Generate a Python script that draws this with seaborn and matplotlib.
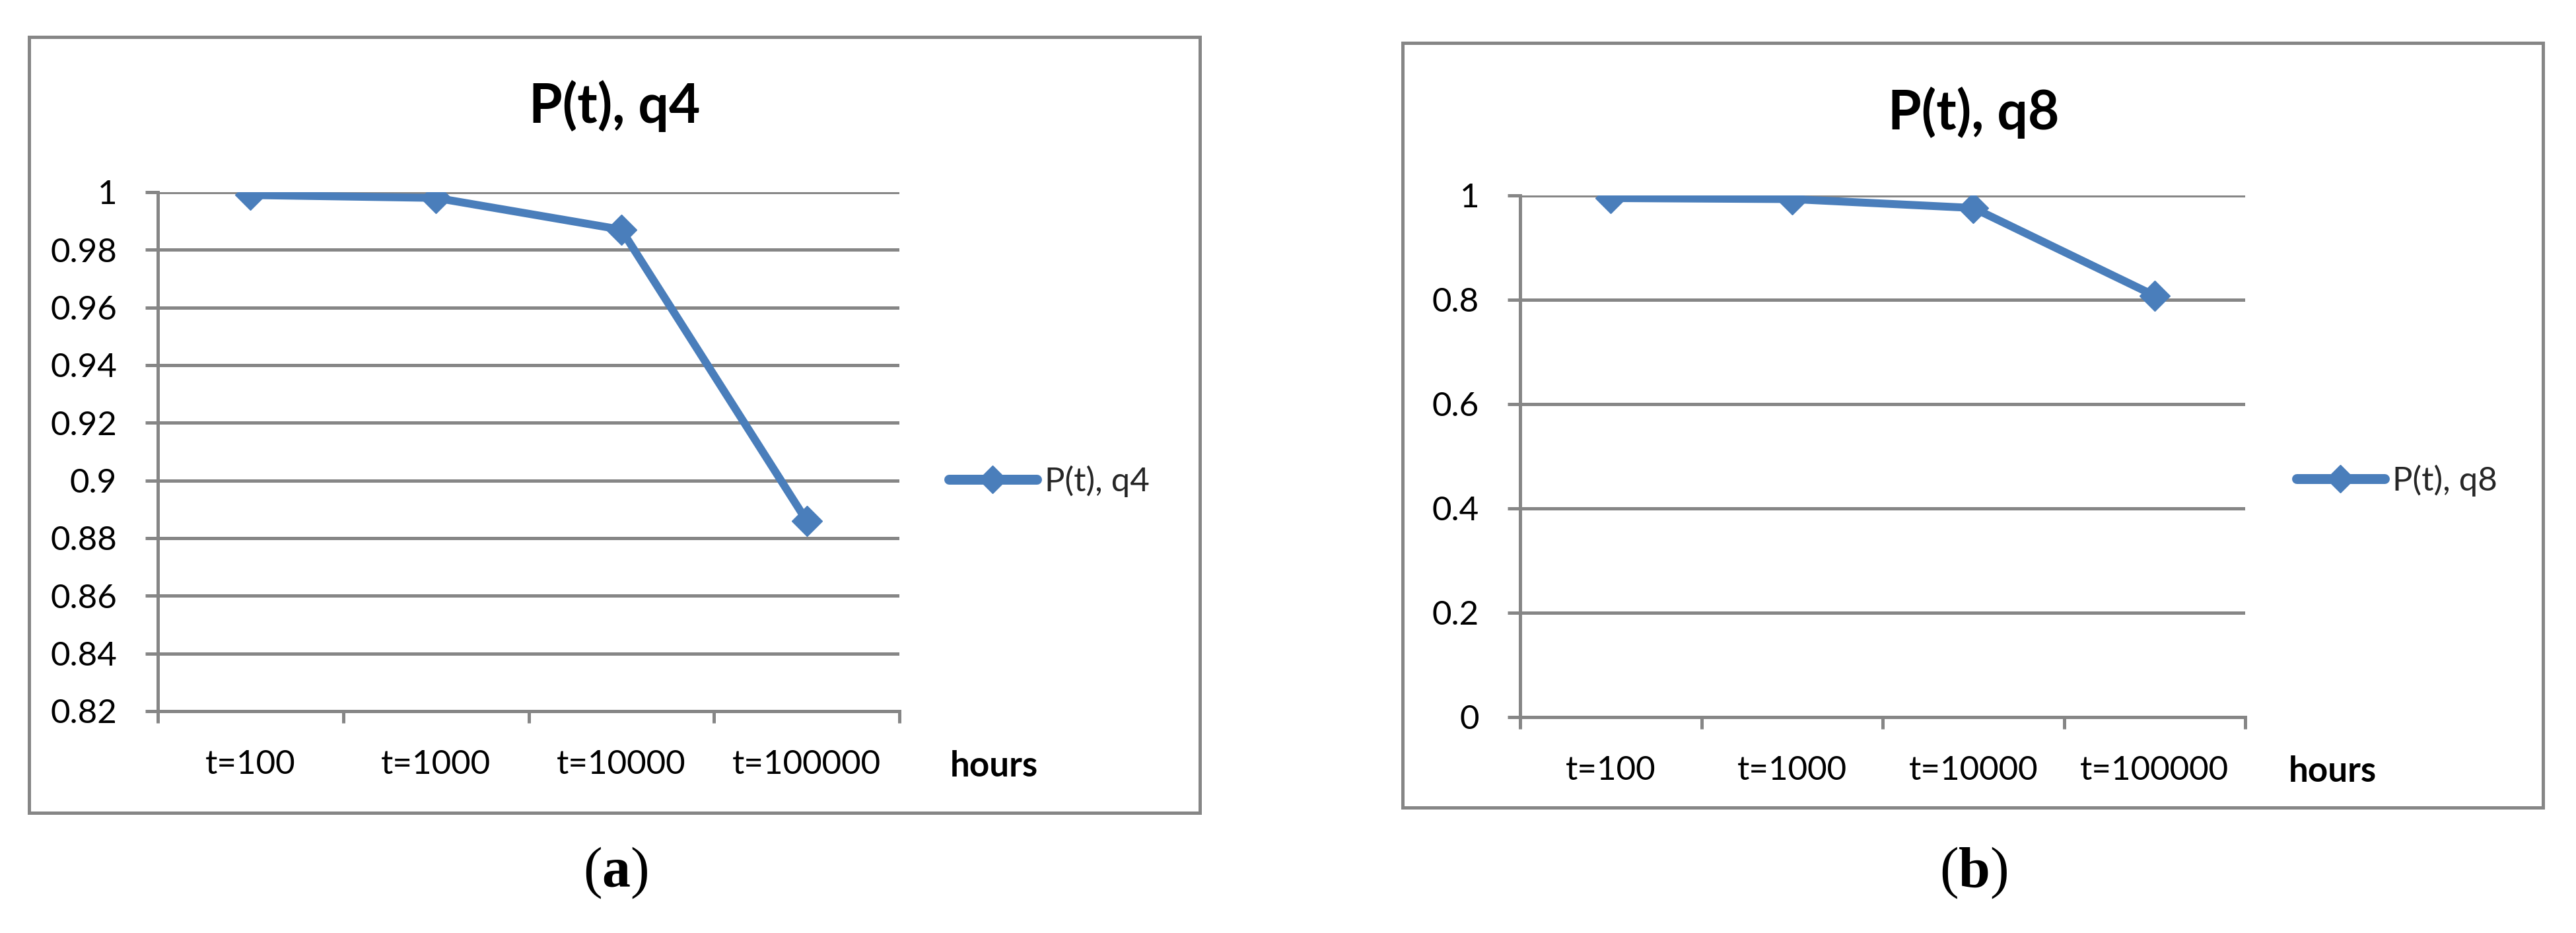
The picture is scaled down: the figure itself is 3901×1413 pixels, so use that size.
import numpy as np
import pandas as pd
import matplotlib
matplotlib.use("Agg")
import matplotlib.pyplot as plt
import seaborn as sns
from matplotlib.patches import Rectangle

# ---- data ----
categories = ["t=100", "t=1000", "t=10000", "t=100000"]
p_q4 = [0.999, 0.998, 0.987, 0.886]
p_q8 = [0.995, 0.993, 0.976, 0.808]
yticks_a = [0.82, 0.84, 0.86, 0.88, 0.9, 0.92, 0.94, 0.96, 0.98, 1.0]
yticks_b = [0, 0.2, 0.4, 0.6, 0.8, 1.0]
titles = ["P(t), q4", "P(t), q8"]
captions = ["a", "b"]
xlabel_text = "hours"

# ---- style ----
sns.set_theme(style="white")
plt.rcParams["font.family"] = ["Lato", "DejaVu Sans"]
plt.rcParams["mathtext.fontset"] = "custom"
plt.rcParams["mathtext.rm"] = "Liberation Serif"
plt.rcParams["mathtext.bf"] = "Liberation Serif:bold"

W, H = 3901, 1413
DPI = 100
fig = plt.figure(figsize=(W / DPI, H / DPI), dpi=DPI)
fig.patch.set_facecolor("white")

BLUE = "#4A7EBB"
GRAY = "#868686"
PX = 72.0 / DPI  # points per pixel


def fx(px):
    return px / W


def fy(py):
    return 1 - py / H


def yfmt(v):
    return f"{v:g}"


panels = [
    dict(vals=p_q4, yticks=yticks_a, ylim=(0.82, 1.0), title=titles[0], cap=captions[0],
         ax=(239, 1362, 291, 1077), border=(44, 1817, 56, 1231),
         title_xy=(931, 161), hours_xy=(1505, 1160), cap_xy=(932, 1322),
         leg_xy=(1437, 729)),
    dict(vals=p_q8, yticks=yticks_b, ylim=(0.0, 1.0), title=titles[1], cap=captions[1],
         ax=(2302, 3400, 296, 1086), border=(2124, 3851, 65, 1223),
         title_xy=(2989, 171), hours_xy=(3532, 1168), cap_xy=(2989, 1322),
         leg_xy=(3478, 728)),
]

for p in panels:
    # outer chart border
    bx0, bx1, by0, by1 = p["border"]
    fig.patches.append(Rectangle((fx(bx0), fy(by1)), fx(bx1) - fx(bx0), fy(by0) - fy(by1),
                                 transform=fig.transFigure, fill=False,
                                 edgecolor=GRAY, linewidth=5 * PX, zorder=0))

    x0, x1, y0, y1 = p["ax"]
    ax = fig.add_axes([fx(x0), fy(y1), fx(x1) - fx(x0), fy(y0) - fy(y1)])
    ax.set_facecolor("none")

    df = pd.DataFrame({"t": categories, "P": p["vals"]})
    sns.lineplot(data=df, x="t", y="P", sort=False, ax=ax, color=BLUE,
                 linewidth=12 * PX, marker="D", markersize=33 * PX,
                 markeredgecolor=BLUE, markerfacecolor=BLUE, markeredgewidth=1,
                 label=p["title"], legend=False, zorder=5)

    n = len(categories)
    ax.set_xlim(-0.5, n - 0.5)
    ax.set_ylim(*p["ylim"])

    # major ticks at category boundaries, labels at minor (centers)
    ax.set_xticks(np.arange(n + 1) - 0.5)
    ax.set_xticklabels([])
    ax.set_xticks(np.arange(n), minor=True)
    ax.set_xticklabels(categories, minor=True)
    ax.tick_params(axis="x", which="major", direction="out", length=18 * PX,
                   width=5 * PX, color=GRAY, bottom=True)
    ax.tick_params(axis="x", which="minor", length=0, pad=58 * PX,
                   labelsize=51 * PX, labelcolor="black")

    ax.set_yticks(p["yticks"])
    ax.set_yticklabels([yfmt(v) for v in p["yticks"]])
    ax.tick_params(axis="y", direction="out", length=19 * PX, width=5 * PX,
                   color=GRAY, left=True, pad=43 * PX, labelsize=51 * PX,
                   labelcolor="black")

    ax.yaxis.grid(True, color=GRAY, linewidth=5 * PX, zorder=1)
    ax.xaxis.grid(False)
    ax.set_axisbelow(True)
    for side in ["top", "right"]:
        ax.spines[side].set_visible(False)
    for side in ["left", "bottom"]:
        ax.spines[side].set_color(GRAY)
        ax.spines[side].set_linewidth(5 * PX)
    ax.set_xlabel("")
    ax.set_ylabel("")

    # legend
    handles, labels = ax.get_legend_handles_labels()
    lx, ly = p["leg_xy"]
    leg = fig.legend(handles, labels, loc="center left",
                     bbox_to_anchor=(fx(lx), fy(ly)), bbox_transform=fig.transFigure,
                     frameon=False, fontsize=51 * PX, handlelength=2.6,
                     handletextpad=0.25, borderpad=0, borderaxespad=0)
    for h in leg.legend_handles:
        h.set_linewidth(15 * PX)
        h.set_solid_capstyle("round")
        h.set_markersize(30 * PX)

    # title
    tx, ty = p["title_xy"]
    fig.text(fx(tx), fy(ty), p["title"], ha="center", va="center",
             fontsize=82 * PX, fontweight="bold", color="black")

    # "hours"
    hx, hy = p["hours_xy"]
    fig.text(fx(hx), fy(hy), xlabel_text, ha="center", va="center",
             fontsize=53 * PX, fontweight="bold", color="black")

    # caption (a)/(b)
    cx, cy = p["cap_xy"]
    fig.text(fx(cx), fy(cy), r"$\mathrm{(}\mathbf{" + p["cap"] + r"}\mathrm{)}$",
             ha="center", va="center", fontsize=86 * PX, color="black")

fig.savefig("out.png", dpi=DPI, facecolor="white")
